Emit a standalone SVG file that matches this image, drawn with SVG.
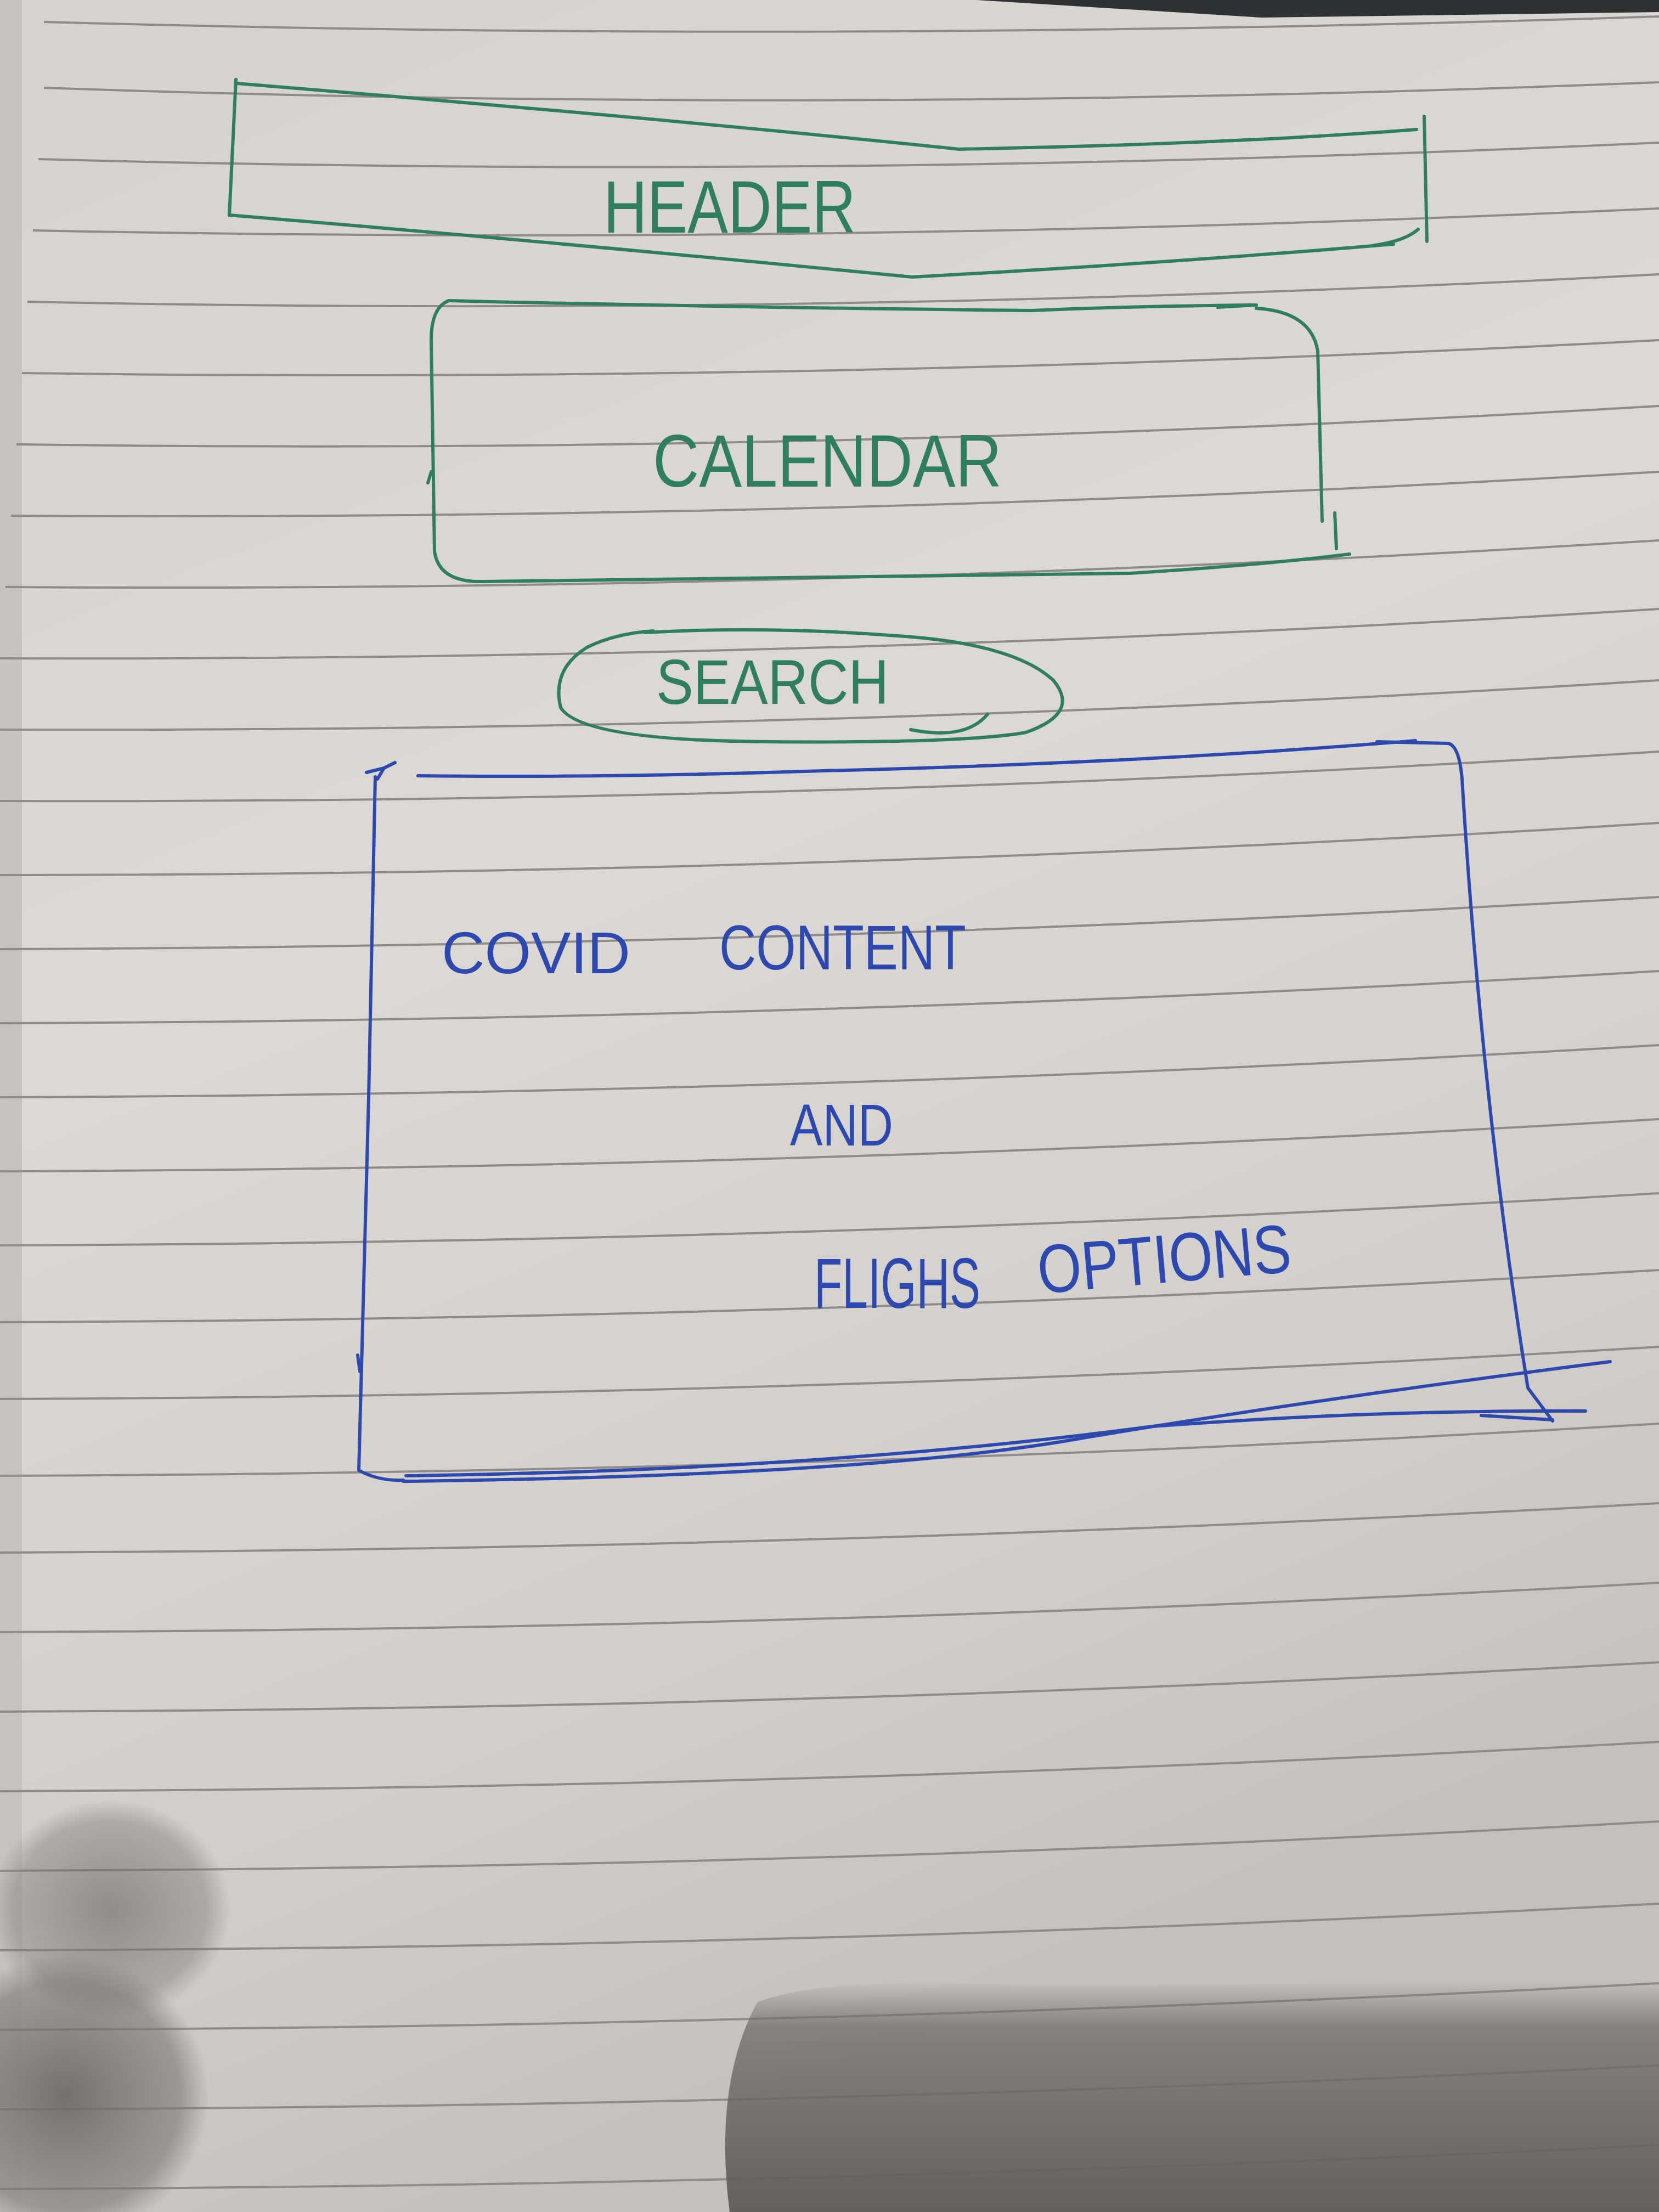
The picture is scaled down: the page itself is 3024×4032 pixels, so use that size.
<svg xmlns="http://www.w3.org/2000/svg" width="3024" height="4032" viewBox="0 0 3024 4032">
<defs>
<linearGradient id="paper" x1="0" y1="0" x2="0.3" y2="1">
<stop offset="0" stop-color="#d6d3cf"/>
<stop offset="0.45" stop-color="#dcd9d4"/>
<stop offset="0.8" stop-color="#d2cfca"/>
<stop offset="1" stop-color="#c4c1bd"/>
</linearGradient>
<radialGradient id="shadowA" cx="0.5" cy="0.5" r="0.5">
<stop offset="0" stop-color="#6a6764" stop-opacity="0.9"/>
<stop offset="0.8" stop-color="#7a7774" stop-opacity="0.6"/>
<stop offset="1" stop-color="#7a7774" stop-opacity="0"/>
</radialGradient>
<linearGradient id="shadowB" x1="0" y1="0" x2="0" y2="1">
<stop offset="0" stop-color="#6f6c69" stop-opacity="0"/>
<stop offset="0.2" stop-color="#6f6c69" stop-opacity="0.75"/>
<stop offset="1" stop-color="#5e5b58" stop-opacity="0.95"/>
</linearGradient>
</defs>
<style>
.rule{fill:none;stroke:#8e8b89;stroke-width:4}
.g{fill:none;stroke:#2f7f5f;stroke-width:6;stroke-linecap:round;stroke-linejoin:round}
.b{fill:none;stroke:#2d49b0;stroke-width:6;stroke-linecap:round;stroke-linejoin:round}
.tg{font-family:"Liberation Sans",Arial,sans-serif;fill:#2f7f5f;font-weight:normal}
.tb{font-family:"Liberation Sans",Arial,sans-serif;fill:#2d49b0;font-weight:normal}
</style>
<rect width="3024" height="4032" fill="url(#paper)"/>
<rect x="0" y="0" width="40" height="4032" fill="#c6c3bf"/>
<path d="M1780 0 L3024 0 L3024 22 L2300 32 Z" fill="#2e3235"/>
<g id="rules">
<path class="rule" d="M80 40 Q1512 80 3024 30"/>
<path class="rule" d="M80 160 Q1512 210 3024 150"/>
<path class="rule" d="M70 290 Q1512 330 3024 260"/>
<path class="rule" d="M60 420 Q1512 450 3024 380"/>
<path class="rule" d="M50 550 Q1512 580 3024 500"/>
<path class="rule" d="M40 680 Q1512 700 3024 620"/>
<path class="rule" d="M30 810 Q1512 830 3024 740"/>
<path class="rule" d="M20 940 Q1512 950 3024 860"/>
<path class="rule" d="M10 1070 Q1512 1080 3024 985"/>
<path class="rule" d="M0 1200 Q1512 1205 3024 1110"/>
<path class="rule" d="M0 1330 Q1512 1335 3024 1240"/>
<path class="rule" d="M0 1460 Q1512 1465 3024 1370"/>
<path class="rule" d="M0 1595 Q1512 1595 3024 1500"/>
<path class="rule" d="M0 1730 Q1512 1725 3024 1635"/>
<path class="rule" d="M0 1865 Q1512 1860 3024 1770"/>
<path class="rule" d="M0 2000 Q1512 1995 3024 1905"/>
<path class="rule" d="M0 2135 Q1512 2130 3024 2040"/>
<path class="rule" d="M0 2270 Q1512 2265 3024 2175"/>
<path class="rule" d="M0 2410 Q1512 2405 3024 2315"/>
<path class="rule" d="M0 2550 Q1512 2545 3024 2455"/>
<path class="rule" d="M0 2690 Q1512 2685 3024 2595"/>
<path class="rule" d="M0 2830 Q1512 2825 3024 2740"/>
<path class="rule" d="M0 2975 Q1512 2970 3024 2885"/>
<path class="rule" d="M0 3120 Q1512 3115 3024 3030"/>
<path class="rule" d="M0 3265 Q1512 3260 3024 3175"/>
<path class="rule" d="M0 3410 Q1512 3405 3024 3320"/>
<path class="rule" d="M0 3555 Q1512 3550 3024 3470"/>
<path class="rule" d="M0 3700 Q1512 3695 3024 3615"/>
<path class="rule" d="M0 3845 Q1512 3840 3024 3765"/>
<path class="rule" d="M0 3990 Q1512 3985 3024 3910"/>
</g>
<g id="shadows">
<ellipse cx="200" cy="3480" rx="220" ry="200" fill="url(#shadowA)" opacity="0.7"/>
<ellipse cx="120" cy="3820" rx="260" ry="260" fill="url(#shadowA)"/>
<path d="M1380 3650 Q1500 3600 1900 3620 L3024 3610 L3024 4032 L1330 4032 Q1300 3800 1380 3650 Z" fill="url(#shadowB)"/>
</g>
<g id="header">
<path class="g" d="M432 152 Q1200 215 1749 272 Q2250 262 2582 236"/>
<path class="g" d="M430 145 L418 392"/>
<path class="g" d="M2596 212 L2601 440"/>
<path class="g" d="M418 392 Q1000 440 1663 505 Q2150 478 2540 445"/>
<path class="g" d="M2500 448 Q2560 440 2585 418"/>
<text class="tg" x="1100" y="424" font-size="135" textLength="460" lengthAdjust="spacingAndGlyphs">HEADER</text>
</g>
<g id="calendar">
<path class="g" d="M818 548 Q1300 560 1880 566 Q2060 558 2290 556"/>
<path class="g" d="M2220 560 L2290 556"/>
<path class="g" d="M2290 562 Q2390 568 2402 640 L2410 950"/>
<path class="g" d="M2433 935 L2436 1000"/>
<path class="g" d="M818 548 Q786 560 786 620 L792 1005 Q800 1062 880 1060 Q1500 1052 2060 1045 Q2300 1030 2460 1010"/>
<path class="g" d="M786 860 L780 880"/>
<text class="tg" x="1190" y="887" font-size="135" textLength="636" lengthAdjust="spacingAndGlyphs">CALENDAR</text>
</g>
<g id="search">
<path class="g" d="M1175 1153 Q1400 1140 1650 1160 Q1850 1175 1920 1240 Q1970 1300 1870 1335 Q1760 1355 1400 1352 Q1060 1350 1022 1290 Q1005 1220 1070 1180 Q1120 1155 1190 1150"/>
<path class="g" d="M1660 1330 Q1760 1350 1800 1302"/>
<text class="tg" x="1196" y="1283" font-size="115" textLength="424" lengthAdjust="spacingAndGlyphs">SEARCH</text>
</g>
<g id="content">
<path class="b" d="M762 1414 Q1100 1418 1500 1405 Q2100 1390 2580 1350"/>
<path class="b" d="M668 1408 L700 1400 L720 1390 M700 1400 L688 1420"/>
<path class="b" d="M2510 1352 L2640 1355 Q2660 1360 2665 1420 Q2700 2000 2785 2530 L2830 2590"/>
<path class="b" d="M684 1416 L672 2000 L654 2680 Q690 2700 735 2698"/>
<path class="b" d="M735 2700 Q1600 2690 1980 2620 Q2400 2550 2935 2482"/>
<path class="b" d="M740 2690 Q1500 2680 2100 2600 Q2500 2570 2890 2572"/>
<path class="b" d="M2700 2580 L2830 2588"/>
<path class="b" d="M652 2470 L656 2500"/>
<text class="tb" x="805" y="1774" font-size="108" textLength="344" lengthAdjust="spacingAndGlyphs">COVID</text>
<text class="tb" x="1311" y="1767" font-size="115" textLength="450" lengthAdjust="spacingAndGlyphs">CONTENT</text>
<text class="tb" x="1440" y="2088" font-size="108" textLength="188" lengthAdjust="spacingAndGlyphs">AND</text>
<text class="tb" x="1484" y="2384" font-size="130" textLength="303" lengthAdjust="spacingAndGlyphs">FLIGHS</text>
<text class="tb" x="1895" y="2358" font-size="125" textLength="463" lengthAdjust="spacingAndGlyphs" transform="rotate(-5 1895 2358)">OPTIONS</text>
</g>
</svg>
